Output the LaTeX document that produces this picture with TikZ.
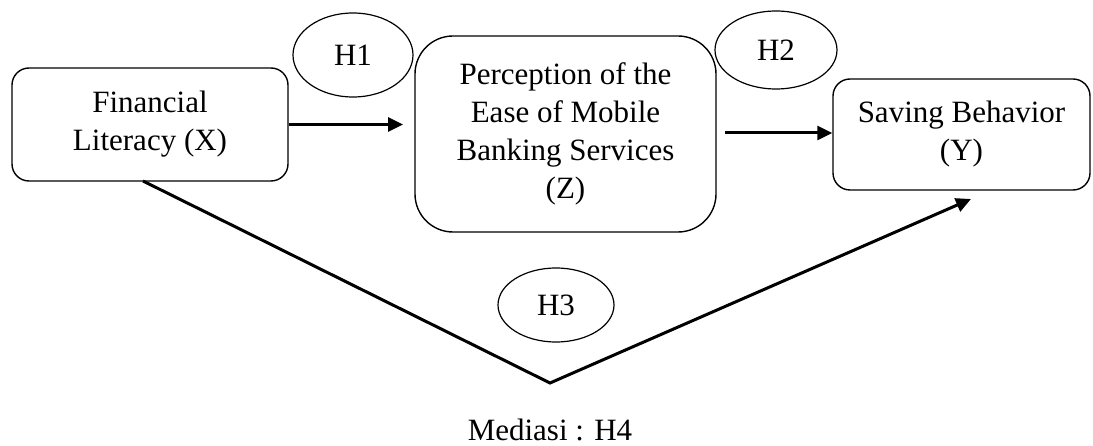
\documentclass[tikz,border=0pt]{standalone}
\usepackage{fontspec}
\setmainfont{Liberation Serif}
\usetikzlibrary{arrows.meta,shapes.geometric}
\begin{document}
\begin{tikzpicture}[x=1pt,y=-1pt,
  box/.style={draw, rounded corners=#1, line width=1.4pt, align=center, inner sep=0pt, font=\fontsize{31}{38}\selectfont},
  hyp/.style={draw, ellipse, line width=1.2pt, inner sep=0pt, font=\fontsize{31}{38}\selectfont},
  arr/.style={line width=3pt, -{Triangle[length=15pt,width=14pt]}},
  lbl/.style={font=\fontsize{31}{38}\selectfont, inner sep=0pt}
]
\useasboundingbox (0,0) rectangle (1093,446);
\node[box=17pt, minimum width=276pt, minimum height=113pt] (fl) at (150,124.5) {Financial\\Literacy (X)};
\node[box=38pt, minimum width=301pt, minimum height=196pt] (pe) at (565.5,134) {Perception of the\\Ease of Mobile\\Banking Services\\(Z)};
\node[box=17pt, minimum width=257pt, minimum height=111pt] (sb) at (961.5,134.5) {Saving Behavior\\(Y)};
\node[hyp, minimum width=120pt, minimum height=84pt] (h1) at (353,55) {H1};
\node[hyp, minimum width=122pt, minimum height=78pt] (h2) at (776,50) {H2};
\node[hyp, minimum width=116pt, minimum height=74pt] (h3) at (556,305) {H3};
\node[lbl, anchor=base] (med) at (550,440) {Mediasi : H4};
\coordinate (a1e) at (403,124.5);
\coordinate (a2s) at (725,133);
\coordinate (vs) at (143,181);
\coordinate (vb) at (550,383);
\coordinate (ve) at (971,199);
\draw[arr] (fl.east) -- (a1e);
\draw[arr] (a2s) -- (sb.west |- a2s);
\draw[arr, line join=miter] (vs) -- (vb) -- (ve);
\end{tikzpicture}
\end{document}
